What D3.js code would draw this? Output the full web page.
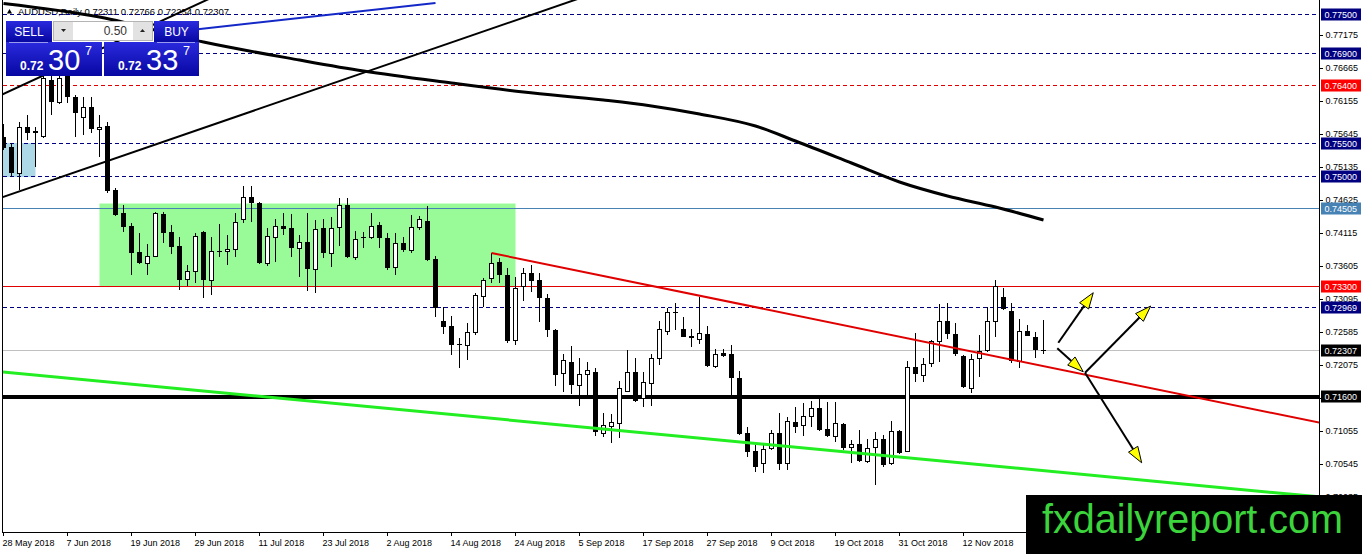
<!DOCTYPE html>
<html>
<meta charset="utf-8">
<style>
body {
  margin: 0;
  background: #fff;
  font-family: "Liberation Sans", Arial, sans-serif;
}
.wick { stroke: #000; stroke-width: 1; shape-rendering: crispEdges; }
.body-up { fill: #fff; stroke: #000; stroke-width: 1; shape-rendering: crispEdges; }
.body-dn { fill: #000; shape-rendering: crispEdges; }
.frame { stroke: #000; stroke-width: 1; shape-rendering: crispEdges; }
</style>
<body>
<script src="https://d3js.org/d3.v7.min.js"></script>
<script>
// AUDUSD daily candles, bar 0 = 28 May 2018, one bar per weekday
var opens = [
0.75599,0.75445,0.75043,0.75754,0.75677,0.75615,0.76480,0.76140,0.76542,0.76217,
0.75908,0.76063,0.75723,0.75769,0.74781,0.74425,0.74224,0.73823,0.73653,0.73761,
0.74410,0.74132,0.73915,0.73405,0.73529,0.74132,0.73390,0.73838,0.73838,0.73869,
0.74332,0.74672,0.74580,0.73653,0.74054,0.74224,0.74193,0.73884,0.73977,0.73560,
0.74193,0.73807,0.74209,0.74549,0.73745,0.74054,0.74054,0.74240,0.74039,0.73591,
0.73962,0.73854,0.74209,0.74302,0.73714,0.72757,0.72679,0.72401,0.72385,0.72587,
0.73143,0.73421,0.73668,0.73467,0.72463,0.73297,0.73498,0.73390,0.73112,0.72617,
0.71953,0.72123,0.71768,0.71938,0.71969,0.71026,0.71134,0.71181,0.71675,0.71969,
0.71567,0.71799,0.72185,0.72602,0.72896,0.72633,0.72525,0.72478,0.72556,0.72061,
0.72262,0.72247,0.71876,0.71026,0.70748,0.70563,0.70794,0.71026,0.70548,0.71196,
0.71150,0.71289,0.71412,0.71088,0.70980,0.71165,0.70810,0.70856,0.70594,0.70810,
0.70934,0.70548,0.71057,0.70748,0.72046,0.71922,0.72108,0.72447,0.72757,0.72556,
0.72216,0.71721,0.72185,0.72308,0.72757,0.73127,0.72911,0.72139,0.72602,0.72509,
0.72311];
var highs = [
0.75800,0.75507,0.75831,0.75939,0.75754,0.76557,0.76557,0.76604,0.76635,0.76248,
0.76217,0.76217,0.75939,0.75831,0.74811,0.74549,0.74271,0.74116,0.73946,0.74441,
0.74441,0.74240,0.74054,0.73622,0.74116,0.74147,0.74054,0.74255,0.74085,0.74425,
0.74842,0.74842,0.74595,0.74193,0.74332,0.74425,0.74410,0.74085,0.74425,0.74317,
0.74332,0.74363,0.74657,0.74657,0.74147,0.74132,0.74425,0.74286,0.74116,0.74116,
0.74054,0.74394,0.74379,0.74533,0.73761,0.72973,0.72834,0.72494,0.72726,0.73189,
0.73421,0.73807,0.73730,0.73575,0.73436,0.73575,0.73622,0.73498,0.73174,0.72633,
0.72247,0.72370,0.72185,0.72123,0.72030,0.71335,0.71320,0.71830,0.72308,0.72185,
0.71969,0.72247,0.72757,0.72957,0.73035,0.72819,0.72633,0.73127,0.72679,0.72324,
0.72324,0.72385,0.71984,0.71119,0.70841,0.70841,0.71073,0.71335,0.71273,0.71428,
0.71490,0.71521,0.71613,0.71505,0.71505,0.71181,0.70918,0.71073,0.70934,0.71042,
0.70995,0.71211,0.71073,0.72139,0.72571,0.72185,0.72463,0.73019,0.73035,0.72726,
0.72231,0.72247,0.72540,0.72973,0.73390,0.73266,0.73035,0.72788,0.72695,0.72587,
0.72766];
var lows = [
0.75399,0.74981,0.74781,0.75553,0.75136,0.75584,0.75939,0.76109,0.76125,0.75599,
0.75630,0.75661,0.75290,0.74734,0.74379,0.74132,0.73467,0.73637,0.73467,0.73745,
0.73962,0.73792,0.73236,0.73297,0.73344,0.73112,0.73158,0.73745,0.73622,0.73745,
0.74271,0.74286,0.73637,0.73606,0.73668,0.74085,0.73745,0.73436,0.73220,0.73189,
0.73730,0.73591,0.73915,0.73730,0.73699,0.73884,0.74023,0.73884,0.73545,0.73467,
0.73823,0.73807,0.74163,0.73690,0.72819,0.72556,0.72231,0.72030,0.72154,0.72540,
0.72973,0.73344,0.73344,0.72416,0.72385,0.73066,0.73205,0.72741,0.72509,0.71752,
0.71660,0.71629,0.71443,0.71567,0.70980,0.70964,0.70872,0.70949,0.71660,0.71505,
0.71428,0.71443,0.72077,0.72540,0.72617,0.72509,0.72355,0.72401,0.72046,0.72030,
0.72200,0.71613,0.70995,0.70655,0.70424,0.70408,0.70764,0.70455,0.70455,0.71026,
0.70980,0.71119,0.71057,0.70964,0.70887,0.70764,0.70563,0.70580,0.70563,0.70223,
0.70501,0.70532,0.70702,0.70733,0.71814,0.71814,0.72046,0.72123,0.72478,0.72216,
0.71721,0.71644,0.71891,0.72278,0.72509,0.72926,0.72108,0.72030,0.72520,0.72185,
0.72254];
var closes = [
0.75429,0.75043,0.75754,0.75661,0.75692,0.76511,0.76140,0.76511,0.76217,0.75970,
0.76063,0.75723,0.75754,0.74765,0.74394,0.74209,0.73807,0.73653,0.73761,0.74425,
0.74116,0.73900,0.73390,0.73529,0.74070,0.73390,0.73838,0.73823,0.73869,0.74286,
0.74672,0.74580,0.73653,0.74070,0.74224,0.74178,0.73884,0.73977,0.73560,0.74178,
0.73807,0.74193,0.74549,0.73745,0.74023,0.74039,0.74224,0.74039,0.73575,0.73962,
0.73854,0.74209,0.74332,0.73699,0.72957,0.72664,0.72385,0.72385,0.72587,0.73158,
0.73390,0.73653,0.73467,0.72447,0.73266,0.73498,0.73374,0.73112,0.72617,0.71922,
0.72154,0.71768,0.71938,0.71999,0.71042,0.71150,0.71196,0.71721,0.71969,0.71521,
0.71814,0.72185,0.72633,0.72896,0.72880,0.72509,0.72494,0.72571,0.72061,0.72247,
0.72216,0.71876,0.71011,0.70733,0.70501,0.70779,0.71026,0.70548,0.71211,0.71119,
0.71289,0.71412,0.71073,0.70980,0.71181,0.70794,0.70856,0.70594,0.70794,0.70934,
0.70532,0.71057,0.70717,0.72046,0.71938,0.72092,0.72447,0.72757,0.72556,0.72247,
0.71737,0.72170,0.72293,0.72757,0.73297,0.72942,0.72139,0.72602,0.72525,0.72308,
0.72307];

// moving average, read at a few bars
var maBars   = [0, 12, 25, 37, 45, 56, 65, 75, 81, 87, 94, 99, 106, 112, 118, 124, 130];
var maValues = [0.77662,0.77453,0.77067,0.76789,0.76619,0.76434,0.76295,0.76171,0.76079,
                0.75955,0.75769,0.75538,0.75198,0.74904,0.74688,0.74518,0.74317];

// time axis
var dateBars   = [0, 8, 16, 24, 32, 40, 48, 56, 64, 72, 80, 88, 96, 104, 112, 120];
var dateLabels = ["28 May 2018","7 Jun 2018","19 Jun 2018","29 Jun 2018","11 Jul 2018",
  "23 Jul 2018","2 Aug 2018","14 Aug 2018","24 Aug 2018","5 Sep 2018","17 Sep 2018",
  "27 Sep 2018","9 Oct 2018","19 Oct 2018","31 Oct 2018","12 Nov 2018"];

// price axis
var priceTicks = [0.77175,0.76665,0.76155,0.75645,0.75135,0.74625,0.74115,0.73605,
                  0.73095,0.72585,0.72075,0.71565,0.71055,0.70545,0.70035];

// horizontal levels
var levelPrices = [0.77500,0.76900,0.76400,0.75500,0.75000,0.74505,0.73300,0.72969,0.72307,0.71600];

// drawn objects: [bar, price] anchors
var lowerChannel = [[0, 0.74675], [60, 0.77231]];
var upperChannel = [[0, 0.76267], [24, 0.77637]];
var blueLine     = [[24, 0.77260], [54, 0.77670]];
var redLine      = [[61, 0.73807], [130, 0.72060]];
var greenLine    = [[0, 0.71969], [130, 0.70444]];
var blueBoxBars = [-2, 4],  blueBoxPrices = [0.75507, 0.74981];
var greenBoxBars = [12, 64], greenBoxPrices = [0.74572, 0.73297];
var arrows = [
  [[131.85, 0.72421], [136.22, 0.73194]],
  [[131.72, 0.72335], [134.97, 0.71973]],
  [[135.19, 0.71958], [143.40, 0.72988]],
  [[135.19, 0.71958], [142.27, 0.70567]]
];

// quote header and trade panel
var symbolName = "AUDUSD,Daily";
var lastBar = [0.72311, 0.72766, 0.72254, 0.72307];
var lotSize = "0.50";
var sellQuote = ["0.72", "30", "7"];
var buyQuote  = ["0.72", "33", "7"];
var siteName = "fxdailyreport.com";

// ---- setup
var width = 1362, height = 554;
var plotRight = 1319.5, plotBottom = 532.5, plotLeft = 2.5;

var x = d3.scaleLinear().domain([0, 130]).range([3.5, 1043.5]);
var y = d3.scaleLinear().domain([0.775, 0.716]).range([14, 395.9]);

var svg = d3.select("body").append("svg")
    .attr("width", width)
    .attr("height", height);

var defs = svg.append("defs");
defs.append("clipPath").attr("id", "plot")
  .append("rect").attr("x", 3).attr("y", 0).attr("width", 1316).attr("height", 532);
var grad = defs.append("linearGradient").attr("id", "btn")
    .attr("x1", 0).attr("y1", 0).attr("x2", 0).attr("y2", 1);
grad.append("stop").attr("offset", "0%").attr("stop-color", "#2a2ade");
grad.append("stop").attr("offset", "100%").attr("stop-color", "#0707a2");

svg.append("rect").attr("width", width).attr("height", height).attr("fill", "#fff");

var plot = svg.append("g").attr("clip-path", "url(#plot)");

// background rectangles
plot.append("rect")
    .attr("x", x(blueBoxBars[0])).attr("width", x(blueBoxBars[1]) - x(blueBoxBars[0]))
    .attr("y", y(blueBoxPrices[0])).attr("height", y(blueBoxPrices[1]) - y(blueBoxPrices[0]))
    .attr("fill", "#add8e6");
plot.append("rect")
    .attr("x", x(greenBoxBars[0])).attr("width", x(greenBoxBars[1]) - x(greenBoxBars[0]))
    .attr("y", y(greenBoxPrices[0])).attr("height", y(greenBoxPrices[1]) - y(greenBoxPrices[0]))
    .attr("fill", "#98fb98");

// header
plot.append("path").attr("d", "M7,13.5 L9.5,9 L12,13.5 Z").attr("fill", "#000");
plot.append("text")
    .attr("x", 18).attr("y", 14.5)
    .attr("font-size", 9.5).attr("fill", "#000")
    .text(symbolName + "  " + lastBar.join(" "));

// level lines
var levelStyle = [
  {c: "#000080", w: 1, dash: "4,3", bg: "#000080"},
  {c: "#000080", w: 1, dash: "4,3", bg: "#000080"},
  {c: "#e00000", w: 1, dash: "4,3", bg: "#ff0000"},
  {c: "#000080", w: 1, dash: "4,3", bg: "#000080"},
  {c: "#000080", w: 1, dash: "4,3", bg: "#000080"},
  {c: "#4682b4", w: 1, dash: null,  bg: "#4682b4"},
  {c: "#e00000", w: 1, dash: null,  bg: "#ff0000"},
  {c: "#000080", w: 1, dash: "4,3", bg: "#000080"},
  {c: "#c0c0c0", w: 1, dash: null,  bg: "#000000"},
  {c: "#000000", w: 4, dash: null,  bg: "#000000"}
];

plot.selectAll(".level")
    .data(levelPrices)
  .enter().append("line")
    .attr("class", "level")
    .attr("x1", 3).attr("x2", plotRight)
    .attr("y1", function(d) { return Math.round(y(d)) + 0.5; })
    .attr("y2", function(d) { return Math.round(y(d)) + 0.5; })
    .attr("stroke", function(d, i) { return levelStyle[i].c; })
    .attr("stroke-width", function(d, i) { return levelStyle[i].w; })
    .attr("stroke-dasharray", function(d, i) { return levelStyle[i].dash; })
    .style("shape-rendering", "crispEdges");

// candles
var bars = d3.range(opens.length).map(function(i) {
  return {i: i, o: opens[i], h: highs[i], l: lows[i], c: closes[i]};
});

plot.selectAll(".wick")
    .data(bars)
  .enter().append("line")
    .attr("class", "wick")
    .attr("x1", function(d) { return x(d.i); })
    .attr("x2", function(d) { return x(d.i); })
    .attr("y1", function(d) { return y(d.h); })
    .attr("y2", function(d) { return y(d.l); });

plot.selectAll(".body-up")
    .data(bars.filter(function(d) { return d.c > d.o; }))
  .enter().append("rect")
    .attr("class", "body-up")
    .attr("x", function(d) { return x(d.i) - 2; })
    .attr("width", 4)
    .attr("y", function(d) { return y(d.c); })
    .attr("height", function(d) { return Math.max(1, y(d.o) - y(d.c)); });

plot.selectAll(".body-dn")
    .data(bars.filter(function(d) { return d.c <= d.o; }))
  .enter().append("rect")
    .attr("class", "body-dn")
    .attr("x", function(d) { return x(d.i) - 2.5; })
    .attr("width", 5)
    .attr("y", function(d) { return y(d.o); })
    .attr("height", function(d) { return Math.max(1, y(d.c) - y(d.o)); });

// trend lines
function extend(p, k0, k1) {
  var s = (p[1][1] - p[0][1]) / (p[1][0] - p[0][0]);
  return [[k0, p[0][1] + s * (k0 - p[0][0])], [k1, p[0][1] + s * (k1 - p[0][0])]];
}
var line = d3.line()
    .x(function(d) { return x(d[0]); })
    .y(function(d) { return y(d[1]); });

plot.append("path").attr("d", line(extend(lowerChannel, -3, 80)))
    .attr("fill", "none").attr("stroke", "#000").attr("stroke-width", 2);
plot.append("path").attr("d", line(extend(upperChannel, -3, 30)))
    .attr("fill", "none").attr("stroke", "#000").attr("stroke-width", 2);
plot.append("path").attr("d", line(blueLine))
    .attr("fill", "none").attr("stroke", "#1428c8").attr("stroke-width", 2);
plot.append("path").attr("d", line(extend(redLine, 61, 170)))
    .attr("fill", "none").attr("stroke", "#e00000").attr("stroke-width", 2);
plot.append("path").attr("d", line(extend(greenLine, -3, 170)))
    .attr("fill", "none").attr("stroke", "#22ee22").attr("stroke-width", 3);

// moving average
var maLine = d3.line()
    .curve(d3.curveMonotoneX)
    .x(function(d, i) { return x(d); })
    .y(function(d, i) { return y(maValues[i]); });
plot.append("path").attr("d", maLine(maBars))
    .attr("fill", "none").attr("stroke", "#000").attr("stroke-width", 3);

// arrows
arrows.forEach(function(a) {
  var x0 = x(a[0][0]), y0 = y(a[0][1]), x1 = x(a[1][0]), y1 = y(a[1][1]);
  var dx = x1 - x0, dy = y1 - y0, len = Math.sqrt(dx * dx + dy * dy);
  var ux = dx / len, uy = dy / len, hl = 16, hw = 5.5;
  var bx = x1 - ux * hl, by = y1 - uy * hl;
  plot.append("line")
      .attr("x1", x0).attr("y1", y0).attr("x2", bx).attr("y2", by)
      .attr("stroke", "#000").attr("stroke-width", 2);
  plot.append("path")
      .attr("d", "M" + x1 + "," + y1 +
                 "L" + (bx - uy * hw) + "," + (by + ux * hw) +
                 "L" + (bx + uy * hw) + "," + (by - ux * hw) + "Z")
      .attr("fill", "#ffff00").attr("stroke", "#000").attr("stroke-width", 1);
});

// frame
svg.append("line").attr("class", "frame")
    .attr("x1", plotLeft).attr("x2", plotLeft).attr("y1", 0).attr("y2", plotBottom);
svg.append("line").attr("class", "frame")
    .attr("x1", plotLeft).attr("x2", plotRight).attr("y1", plotBottom).attr("y2", plotBottom);
svg.append("line").attr("class", "frame")
    .attr("x1", plotRight).attr("x2", plotRight).attr("y1", 0).attr("y2", plotBottom);

// date axis
var xAxis = d3.axisBottom(x)
    .tickValues(dateBars)
    .tickFormat(function(d, i) { return dateLabels[i]; })
    .tickSize(3)
    .tickPadding(4)
    .offset(0);
var gx = svg.append("g")
    .attr("transform", "translate(0," + plotBottom + ")")
    .call(xAxis);
gx.select(".domain").remove();
gx.selectAll("line").style("shape-rendering", "crispEdges");
gx.selectAll("text")
    .attr("x", -1)
    .attr("text-anchor", "start")
    .attr("font-size", 9)
    .attr("font-family", "'Liberation Sans', Arial, sans-serif")
    .attr("fill", "#000");

// price axis
var yAxis = d3.axisRight(y)
    .tickValues(priceTicks)
    .tickFormat(d3.format(".5f"))
    .tickSize(3)
    .tickPadding(3)
    .offset(0);
var gy = svg.append("g")
    .attr("transform", "translate(" + plotRight + ",0)")
    .call(yAxis);
gy.select(".domain").remove();
gy.selectAll("line").style("shape-rendering", "crispEdges");
gy.selectAll("text")
    .attr("font-size", 9)
    .attr("font-family", "'Liberation Sans', Arial, sans-serif")
    .attr("fill", "#000");

// level labels on the price axis
var tags = svg.selectAll(".tag")
    .data(levelPrices)
  .enter().append("g")
    .attr("class", "tag")
    .attr("transform", function(d) { return "translate(1321," + Math.round(y(d)) + ")"; });
tags.append("rect")
    .attr("x", 0).attr("y", -5.5).attr("width", 40).attr("height", 12)
    .attr("fill", function(d, i) { return levelStyle[i].bg; });
tags.append("text")
    .attr("x", 3.5).attr("y", 4)
    .attr("font-size", 9)
    .attr("fill", "#fff")
    .text(function(d) { return d3.format(".5f")(d); });

// trade panel
var panel = svg.append("g");
panel.append("rect").attr("x", 6).attr("y", 21).attr("width", 46).attr("height", 21).attr("fill", "url(#btn)");
panel.append("rect").attr("x", 154).attr("y", 21).attr("width", 45).attr("height", 21).attr("fill", "url(#btn)");
panel.append("rect").attr("x", 6).attr("y", 42).attr("width", 96).attr("height", 34).attr("fill", "url(#btn)");
panel.append("rect").attr("x", 104).attr("y", 42).attr("width", 95).attr("height", 34).attr("fill", "url(#btn)");
panel.append("line").attr("x1", 9).attr("x2", 48).attr("y1", 42.5).attr("y2", 42.5)
    .attr("stroke", "#9a9af0").attr("stroke-width", 1);
panel.append("line").attr("x1", 157).attr("x2", 195).attr("y1", 42.5).attr("y2", 42.5)
    .attr("stroke", "#9a9af0").attr("stroke-width", 1);
panel.append("text").attr("x", 29).attr("y", 35.5).attr("text-anchor", "middle")
    .attr("font-size", 12).attr("fill", "#fff").text("SELL");
panel.append("text").attr("x", 176.5).attr("y", 35.5).attr("text-anchor", "middle")
    .attr("font-size", 12).attr("fill", "#fff").text("BUY");

// lot box
panel.append("rect").attr("x", 53.5).attr("y", 21.5).attr("width", 99).attr("height", 19)
    .attr("fill", "#fff").attr("stroke", "#b4b4b4");
panel.append("rect").attr("x", 54).attr("y", 22).attr("width", 19).attr("height", 18).attr("fill", "#e2e2e2");
panel.append("rect").attr("x", 133).attr("y", 22).attr("width", 19).attr("height", 18).attr("fill", "#e2e2e2");
panel.append("path").attr("d", "M61,29 L66,29 L63.5,32 Z").attr("fill", "#222");
panel.append("path").attr("d", "M140,32 L145,32 L142.5,29 Z").attr("fill", "#222");
panel.append("text").attr("x", 127).attr("y", 35).attr("text-anchor", "end")
    .attr("font-size", 12).attr("fill", "#333").text(lotSize);

// quotes
function quote(q, x0, xBig, xSup) {
  panel.append("text").attr("x", x0).attr("y", 70).attr("font-size", 12).attr("font-weight", "bold")
      .attr("fill", "#fff").text(q[0]);
  panel.append("text").attr("x", xBig).attr("y", 70).attr("font-size", 29)
      .attr("fill", "#fff").text(q[1]);
  panel.append("text").attr("x", xSup).attr("y", 55).attr("font-size", 12.5)
      .attr("fill", "#fff").text(q[2]);
}
quote(sellQuote, 20, 48, 85);
quote(buyQuote, 118, 146, 183);

// watermark
svg.append("rect").attr("x", 1026).attr("y", 495).attr("width", 336).attr("height", 59).attr("fill", "#000");
svg.append("text")
    .attr("x", 1042).attr("y", 533)
    .attr("font-size", 40)
    .attr("textLength", 301)
    .attr("lengthAdjust", "spacingAndGlyphs")
    .attr("fill", "#3cd43c")
    .text(siteName);
</script>
</body>
</html>
